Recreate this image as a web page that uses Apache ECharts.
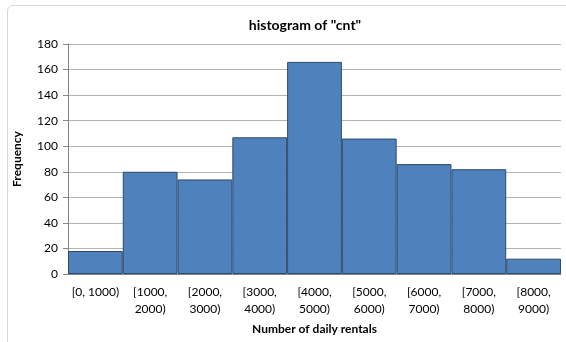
<!DOCTYPE html>
<html>
<head>
<meta charset="utf-8">
<script src="https://cdn.jsdelivr.net/npm/echarts@6/dist/echarts.min.js"></script>
<style>
  html, body { margin: 0; padding: 0; background: #fff; }
  #wrap { position: absolute; left: 7px; top: 5px; width: 580px; height: 360px; border: 1px solid #d9d9d9; border-radius: 6px; }
  #chart { position: absolute; left: 0; top: 0; width: 566px; height: 342px; }
</style>
</head>
<body>
<div id="wrap"></div>
<div id="chart"></div>
<script>
  var categories = ['[0, 1000)', '[1000,\n2000)', '[2000,\n3000)', '[3000,\n4000)', '[4000,\n5000)',
    '[5000,\n6000)', '[6000,\n7000)', '[7000,\n8000)', '[8000,\n9000)']
  var frequency = [18, 80, 74, 107, 166, 106, 86, 82, 12]
  var yTicks = { min: 0, max: 180, interval: 20 }

  var chart = echarts.init(document.getElementById('chart'))
  var font = 'Lato, "Open Sans", sans-serif'

  chart.setOption({
    animation: false,
    title: {
      text: 'histogram of "cnt"',
      left: 300,
      textAlign: 'center',
      top: 13,
      textStyle: { fontFamily: font, fontWeight: 'bold', fontSize: 14, color: '#000' }
    },
    grid: { left: 68, right: 5, top: 44, bottom: 68 },
    xAxis: {
      type: 'category',
      data: categories,
      name: 'Number of daily rentals',
      nameLocation: 'middle',
      nameGap: 48,
      nameTextStyle: { fontFamily: font, fontWeight: 'bold', fontSize: 12, color: '#000' },
      axisLine: { lineStyle: { color: '#868686' } },
      axisTick: { show: false },
      axisLabel: { interval: 0, margin: 10, lineHeight: 17, fontFamily: font, fontSize: 12, color: '#000' }
    },
    yAxis: {
      type: 'value',
      min: yTicks.min,
      max: yTicks.max,
      interval: yTicks.interval,
      name: 'Frequency',
      nameLocation: 'middle',
      nameGap: 45,
      nameTextStyle: { fontFamily: font, fontWeight: 'bold', fontSize: 12, color: '#000' },
      axisLine: { show: true, lineStyle: { color: '#868686' } },
      axisTick: { show: true, length: 5, lineStyle: { color: '#868686' } },
      axisLabel: { margin: 10, fontFamily: font, fontSize: 12, color: '#000' },
      splitLine: { lineStyle: { color: '#b3b3b3' } }
    },
    series: [{
      type: 'bar',
      data: frequency,
      barCategoryGap: 0,
      itemStyle: { color: '#4f81bd', borderColor: '#2c4a6e', borderWidth: 1 }
    }]
  })
</script>
</body>
</html>
